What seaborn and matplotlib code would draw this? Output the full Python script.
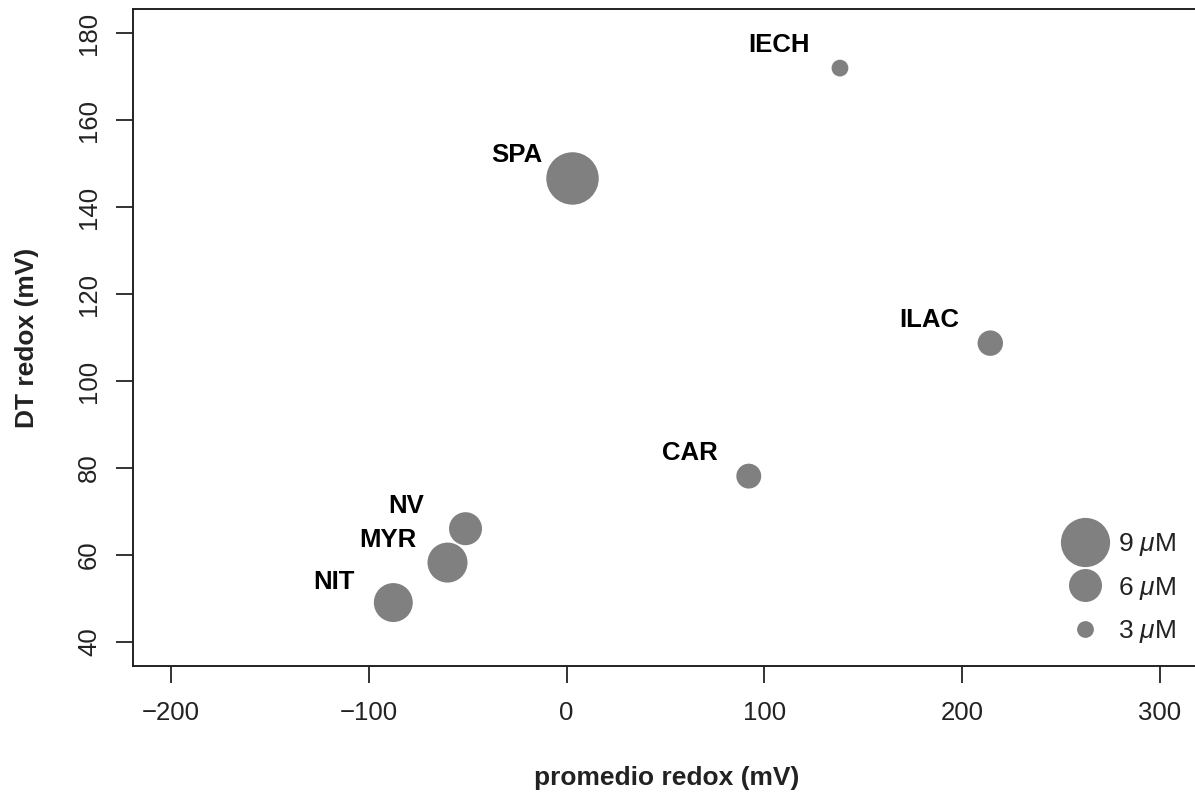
import pandas as pd
import seaborn as sns
import matplotlib.pyplot as plt
from matplotlib.lines import Line2D

# data
sites = ['IECH', 'SPA', 'ILAC', 'CAR', 'NV', 'MYR', 'NIT']
redox_mean = [138.2, 3.0, 214.2, 92.1, -51.1, -60.2, -87.6]
redox_dt = [172.0, 146.6, 108.7, 78.1, 66.0, 58.2, 49.0]
conc_um = [3.0, 9.6, 4.6, 4.5, 6.0, 7.3, 7.1]
legend_conc = [9, 6, 3]
x_ticks = [-200, -100, 0, 100, 200, 300]
y_ticks = [40, 60, 80, 100, 120, 140, 160, 180]

df = pd.DataFrame({'site': sites, 'promedio': redox_mean,
                   'dt': redox_dt, 'conc': conc_um})

sns.set_theme(style='white')
plt.rcParams['font.family'] = ['Liberation Sans', 'DejaVu Sans']
plt.rcParams['mathtext.fontset'] = 'custom'
plt.rcParams['mathtext.rm'] = 'Liberation Sans'
plt.rcParams['mathtext.it'] = 'Liberation Sans:italic'

GREY = '#808080'
INK = '#222222'
FS_TICK = 18.5
FS_LAB = 19


def marker_diam(c):
    # bubble diameter in points, linear in concentration
    return 0.72 * (5.4 * c + 0.6)


fig = plt.figure(figsize=(11.95, 7.92), dpi=100)
ax = fig.add_axes([133 / 1195, 1 - 666 / 792, (1215 - 133) / 1195, (666 - 9) / 792])

sns.scatterplot(data=df, x='promedio', y='dt', size='conc',
                sizes={c: marker_diam(c) ** 2 for c in conc_um},
                color=GREY, linewidth=0, legend=False, ax=ax)

# site labels, up and to the left of each bubble (offsets in points)
label_offset = {'NV': (-30, 11.5), 'NIT': (-28, 10)}
for _, r in df.iterrows():
    dx, dy = label_offset.get(r['site'], (-22, 11.5))
    ax.annotate(r['site'], (r['promedio'], r['dt']), xytext=(dx, dy),
                textcoords='offset points', ha='right', va='baseline',
                fontsize=18.5, fontweight='bold', color='black')

ax.set_xlim(-219.2, 327.8)
ax.set_ylim(34.4, 185.6)
ax.set_xticks(x_ticks)
ax.set_yticks(y_ticks)
ax.tick_params(direction='out', length=12, width=1.3, color=INK,
               labelsize=FS_TICK, labelcolor=INK, left=True, bottom=True)
ax.tick_params(axis='x', pad=13)
ax.tick_params(axis='y', pad=11)
plt.setp(ax.get_yticklabels(), rotation=90, va='center')
for sp in ax.spines.values():
    sp.set_color(INK)
    sp.set_linewidth(1.4)

ax.set_xlabel('promedio redox (mV)', fontsize=FS_LAB, fontweight='bold', color=INK)
ax.set_ylabel('DT redox (mV)', fontsize=FS_LAB, fontweight='bold', color=INK)
ax.xaxis.label.set_va('baseline')
ax.xaxis.set_label_coords((667 - 133) / 1082, (666 - 785) / 657)
ax.yaxis.label.set_va('baseline')
ax.yaxis.set_label_coords((34 - 133) / 1082, 0.5)

handles = [Line2D([], [], marker='o', ls='none', color=GREY,
                  markersize=marker_diam(c), markeredgewidth=0)
           for c in legend_conc]
labels = [f'{c} $\\mu$M' for c in legend_conc]
fig.legend(handles, labels, loc='center left',
           bbox_to_anchor=((1085 - 19.8) / 1195, (792 - 588) / 792),
           frameon=False, fontsize=FS_LAB, handlelength=1.5, handletextpad=0.5,
           labelspacing=0.62, borderpad=0, borderaxespad=0, labelcolor=INK)

fig.savefig('out.png', dpi=100)
